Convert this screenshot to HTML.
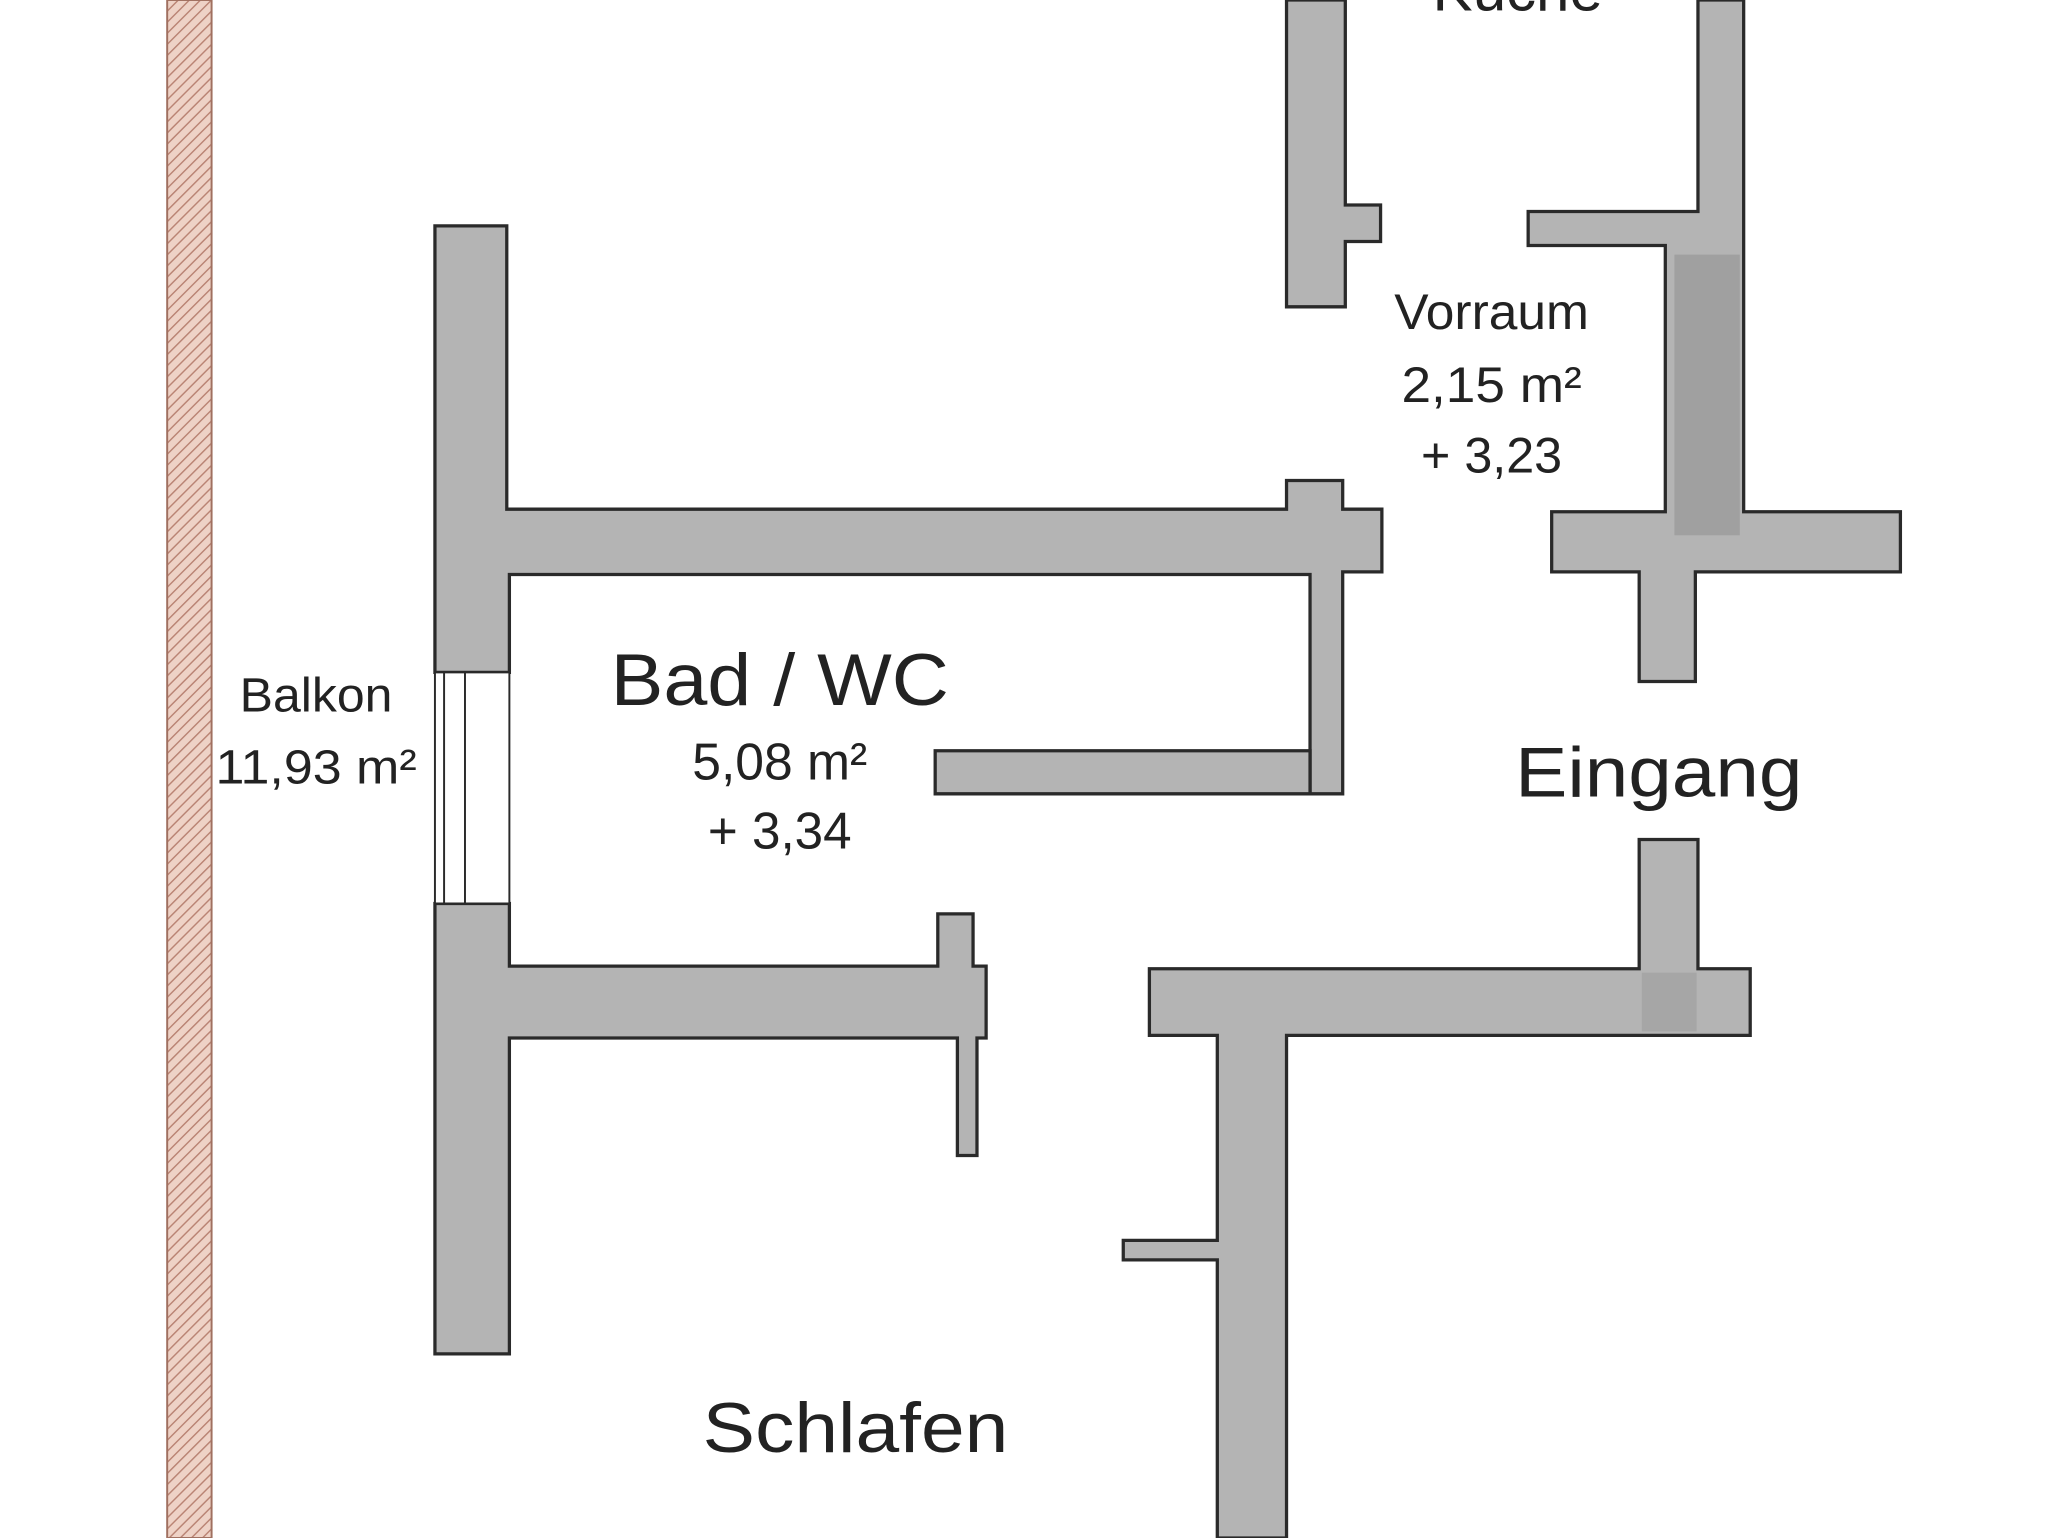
<!DOCTYPE html>
<html><head><style>html,body{margin:0;padding:0;background:#fff;}svg{display:block}</style></head>
<body>
<svg width="2048" height="1538" viewBox="0 0 1568 1178" preserveAspectRatio="none" xmlns="http://www.w3.org/2000/svg">
<defs>
<pattern id="h" width="6" height="6" patternUnits="userSpaceOnUse" patternTransform="rotate(45)">
<rect width="6" height="6" fill="#eed2c6"/><line x1="0" y1="0" x2="0" y2="6" stroke="#b98373" stroke-width="2.2"/>
</pattern>
</defs>
<rect x="128" y="0" width="34" height="1178" fill="url(#h)" stroke="#a07060" stroke-width="1.5"/>
<g fill="#b4b4b4" stroke="#2a2a2a" stroke-width="2.5">
<path d="M333 173 H388 V390 H985 V368 H1028 V390 H1058 V438 H1028 V608 H1003 V440 H390 V515 H333 Z"/>
<path d="M716 575 H1003 V608 H716 Z"/>
<path d="M333 692 H390 V740 H718 V700 H745 V740 H755 V795 H748 V885 H733 V795 H390 V1037 H333 Z"/>
<path d="M985 0 H1030 V157 H1057 V185 H1030 V235 H985 Z"/>
<path d="M1300 0 H1335 V392 H1455 V438 H1298 V522 H1255 V438 H1188 V392 H1275 V188 H1170 V162 H1300 Z"/>
<path d="M1255 643 H1300 V742 H1340 V793 H985 V1178 H932 V965 H860 V950 H932 V793 H880 V742 H1255 Z"/>
</g>
<rect x="1282" y="195" width="50" height="215" fill="#a0a0a0"/>
<rect x="1257" y="745" width="42" height="45" fill="#a6a6a6"/>
<g fill="#fff" stroke="#2a2a2a" stroke-width="1.5">
<rect x="333" y="515" width="57" height="177"/>
<line x1="340" y1="515" x2="340" y2="692"/><line x1="356" y1="515" x2="356" y2="692"/>
</g>
<g font-family="Liberation Sans, sans-serif" fill="#222" text-anchor="middle">
<text x="1162" y="8" font-size="46">Küche</text>
<text x="1142" y="252" font-size="38" textLength="149" lengthAdjust="spacingAndGlyphs">Vorraum</text>
<text x="1142" y="308" font-size="38" textLength="138" lengthAdjust="spacingAndGlyphs">2,15 m²</text>
<text x="1142" y="362" font-size="38" textLength="108" lengthAdjust="spacingAndGlyphs">+ 3,23</text>
<text x="597" y="540" font-size="56" textLength="259" lengthAdjust="spacingAndGlyphs">Bad / WC</text>
<text x="597" y="597" font-size="40" textLength="134" lengthAdjust="spacingAndGlyphs">5,08 m²</text>
<text x="597" y="650" font-size="40" textLength="110" lengthAdjust="spacingAndGlyphs">+ 3,34</text>
<text x="242" y="545" font-size="37" textLength="117" lengthAdjust="spacingAndGlyphs">Balkon</text>
<text x="242" y="600" font-size="37" textLength="154" lengthAdjust="spacingAndGlyphs">11,93 m²</text>
<text x="1270" y="610" font-size="54" textLength="220" lengthAdjust="spacingAndGlyphs">Eingang</text>
<text x="655" y="1112" font-size="54" textLength="234" lengthAdjust="spacingAndGlyphs">Schlafen</text>
</g>
</svg>
</body></html>
